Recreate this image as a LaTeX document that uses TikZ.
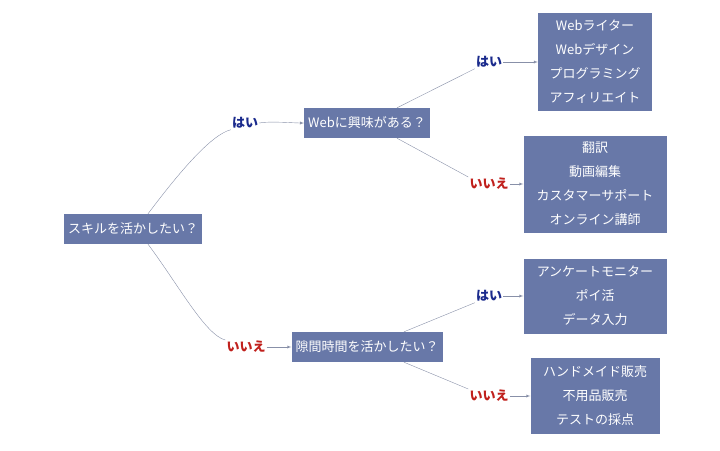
\documentclass[tikz,border=0pt]{standalone}
\usepackage{fontspec}
\setmainfont{Noto Sans CJK JP}
\definecolor{boxblue}{HTML}{6878A8}
\definecolor{yesblue}{HTML}{1A2A8C}
\definecolor{nored}{HTML}{C0201C}
\definecolor{linegray}{HTML}{8890A8}
\tikzset{
  qbox/.style={rectangle, fill=boxblue, text=white, font=\fontsize{13}{24}\selectfont, inner sep=4pt, minimum height=30pt},
  leaf/.style={rectangle, fill=boxblue, text=white, align=center, font=\fontsize{13}{24}\selectfont, inner sep=3pt},
  yes/.style={text=yesblue, font=\fontsize{13}{15}\selectfont\bfseries, inner sep=1pt},
  no/.style={text=nored, font=\fontsize{13}{15}\selectfont\bfseries, inner sep=1pt},
  wire/.style={draw=linegray, thin},
  arrow/.style={draw=linegray, thin, -latex}
}
\begin{document}
\begin{tikzpicture}[x=1pt,y=-1pt]
\useasboundingbox (0,0) rectangle (720,450);

\node (root) [qbox] at (133,229) {スキルを活かしたい？};
\node (web) [qbox] at (367,123) {Webに興味がある？};
\node (gap) [qbox] at (367,347) {隙間時間を活かしたい？};

\node (leafA) [leaf, minimum width=114pt, minimum height=98pt] at (595,62) {Webライター\\Webデザイン\\プログラミング\\アフィリエイト};
\node (leafB) [leaf, minimum width=143pt, minimum height=97pt] at (595,184) {翻訳\\動画編集\\カスタマーサポート\\オンライン講師};
\node (leafC) [leaf, minimum width=143pt, minimum height=75pt] at (595,296) {アンケートモニター\\ポイ活\\データ入力};
\node (leafD) [leaf, minimum width=129pt, minimum height=76pt] at (595,396) {ハンドメイド販売\\不用品販売\\テストの採点};

\node (yesroot) [yes] at (245,123) {はい};
\node (noroot) [no] at (246,347) {いいえ};
\node (yesweb) [yes] at (489,62) {はい};
\node (noweb) [no] at (489,184) {いいえ};
\node (yesgap) [yes] at (489,296) {はい};
\node (nogap) [no] at (489,396) {いいえ};

\draw [wire] ([xshift=15pt]root.north) .. controls +(30,-40) and +(-20,5) .. (yesroot.south west);
\draw [wire] ([xshift=15pt]root.south) .. controls +(30,40) and +(-20,-5) .. (noroot.north west);
\draw [wire] ([xshift=30pt]web.north) -- (yesweb.south west);
\draw [wire] ([xshift=30pt]web.south) -- (noweb.north west);
\draw [wire] ([xshift=37pt]gap.north) -- (yesgap.south west);
\draw [wire] ([xshift=37pt]gap.south) -- (nogap.north west);

\draw [arrow] (yesroot.east) .. controls +(10,-2) and +(-10,0) .. (web.west);
\draw [arrow] (noroot) -- (gap);
\draw [arrow] (yesweb) -- (leafA);
\draw [arrow] (noweb) -- (leafB);
\draw [arrow] (yesgap) -- (leafC);
\draw [arrow] (nogap) -- (leafD);

\end{tikzpicture}
\end{document}
